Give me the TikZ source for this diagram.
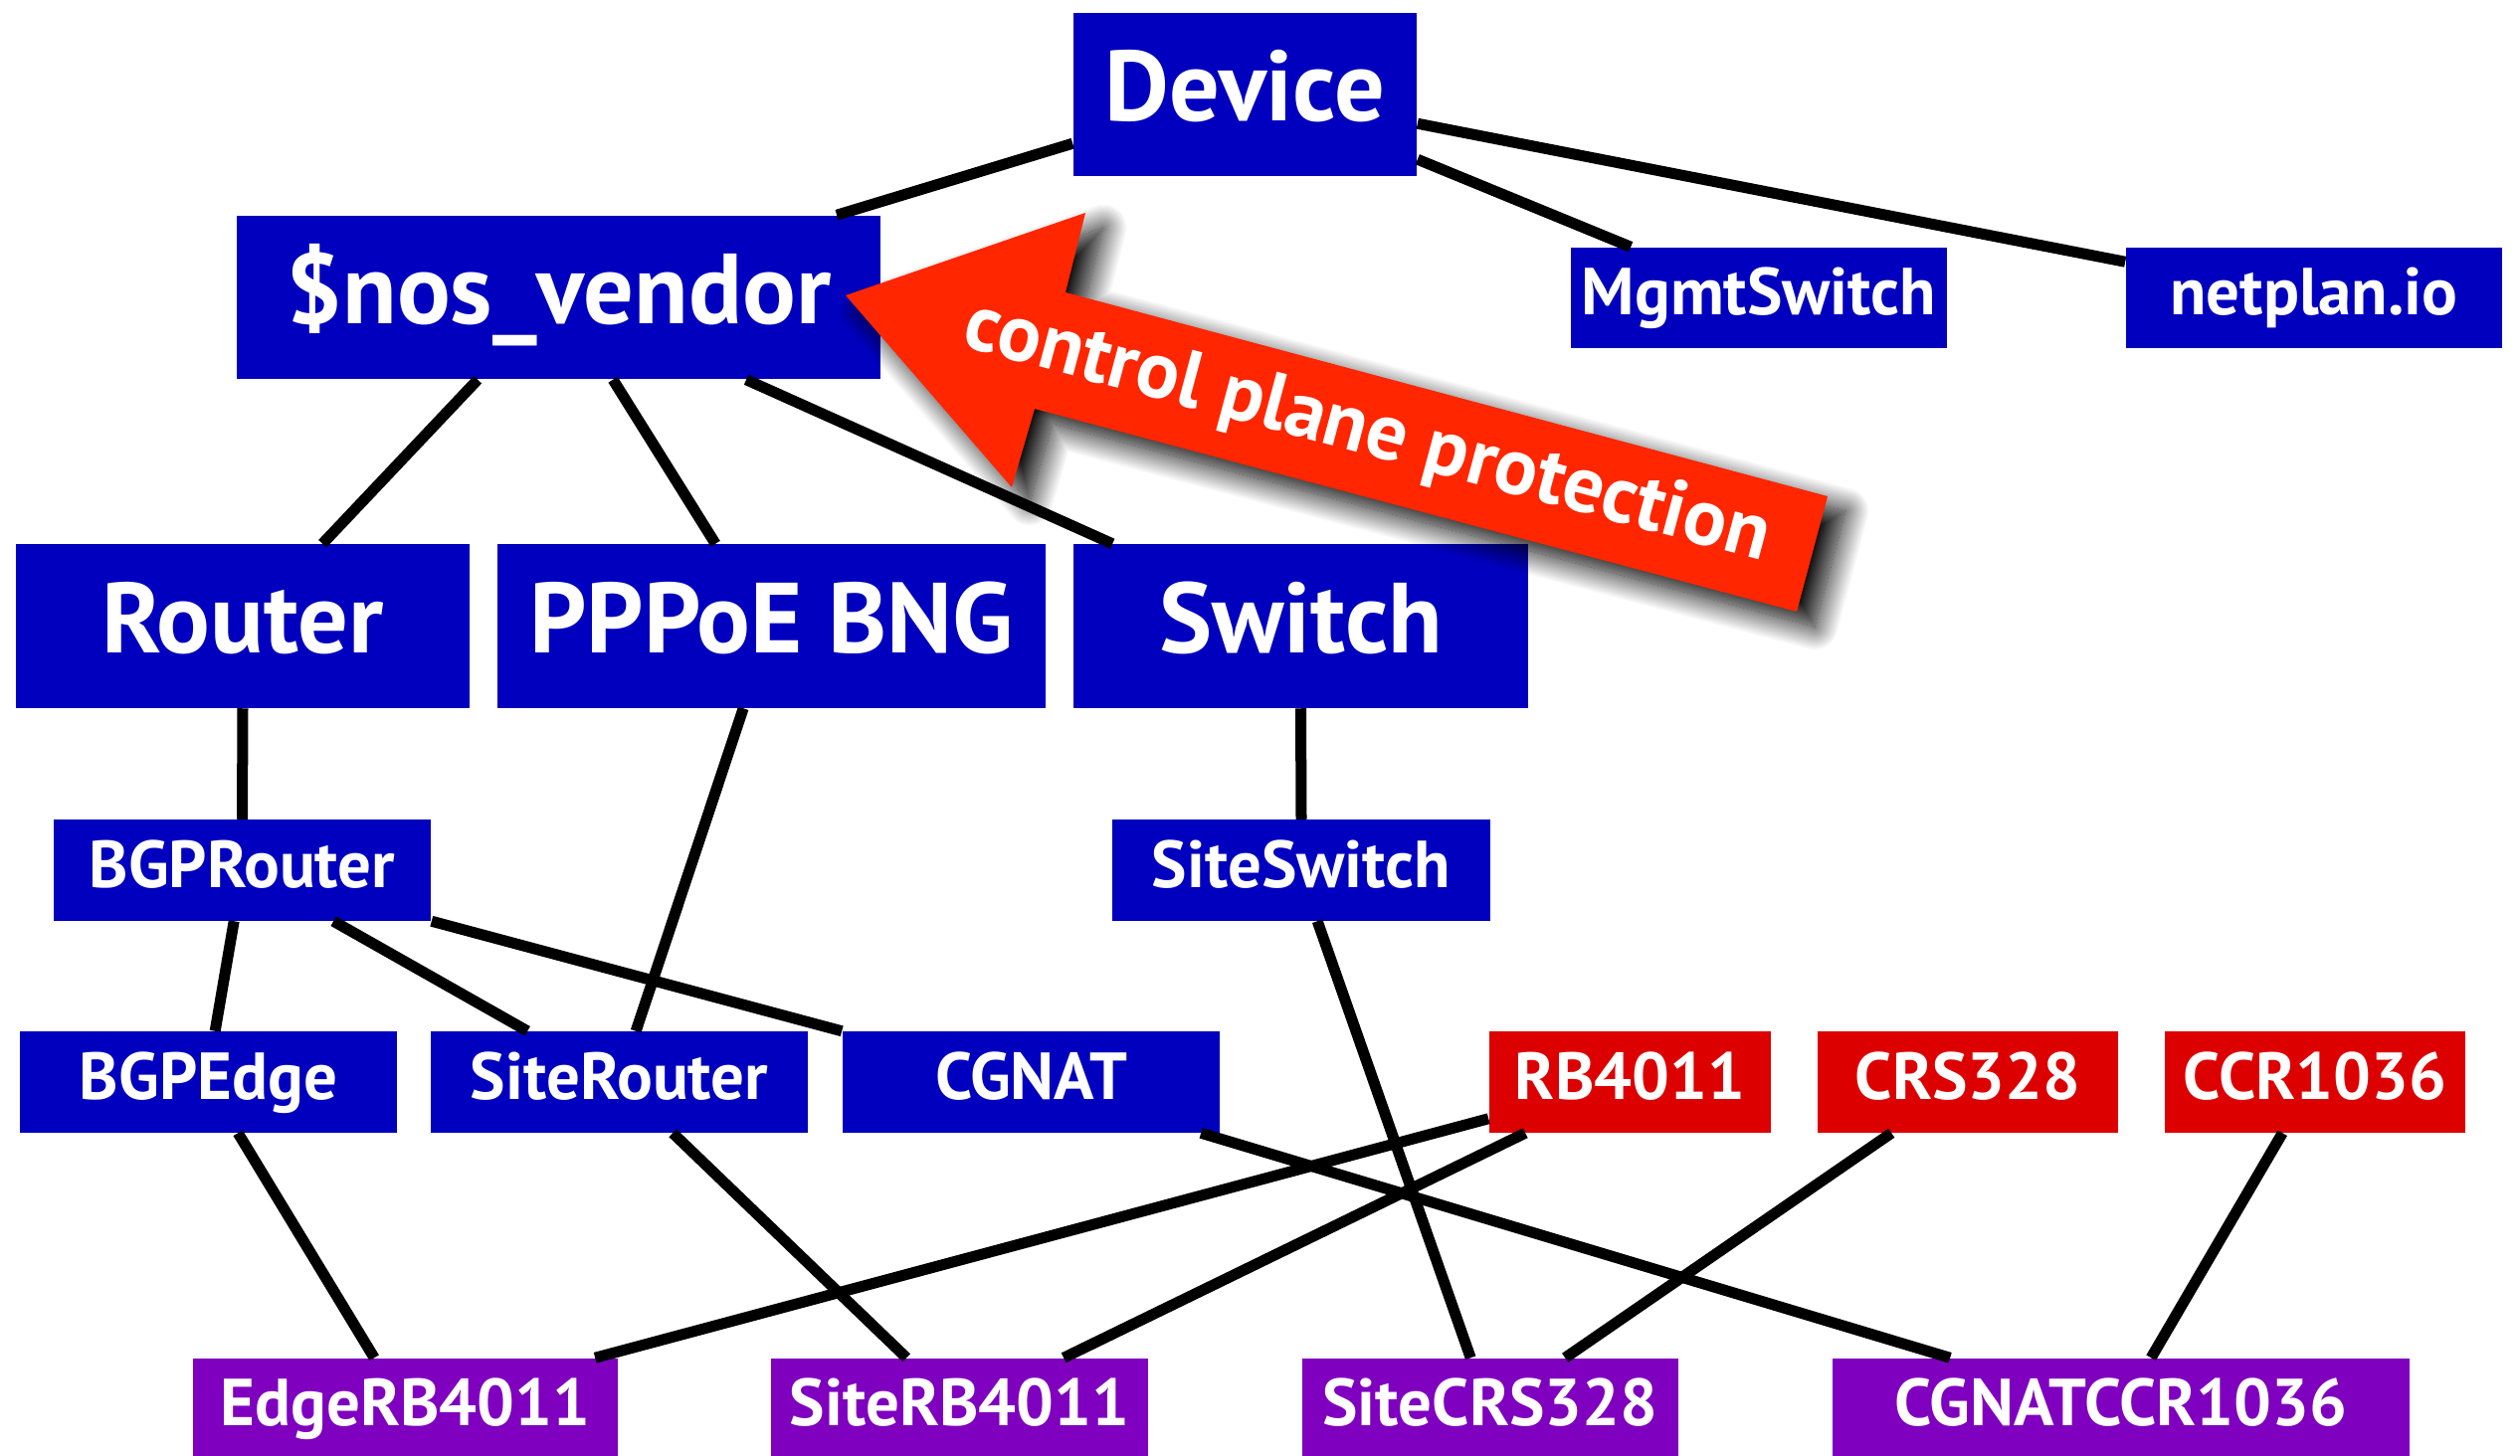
\documentclass[tikz,border=0pt]{standalone}
\usepackage{fontspec}
\setmainfont{PT Sans}
\usetikzlibrary{calc,shadows.blur}
\definecolor{nodeblue}{RGB}{0,0,190}
\definecolor{nodered}{RGB}{221,0,0}
\definecolor{nodepurple}{RGB}{127,0,191}
\definecolor{arrowred}{RGB}{255,38,0}
\begin{document}
\begin{tikzpicture}[x=0.01cm,y=-0.01cm,
  box/.style={rectangle, inner sep=0pt, text=white,
    font=\bfseries\fontsize{19}{21}\selectfont,
    minimum height=1.01cm, text height=0.46cm, text depth=0.12cm},
  bigbox/.style={box, font=\bfseries\fontsize{28.5}{31}\selectfont,
    minimum height=1.64cm, text height=0.69cm, text depth=0.16cm},
  bluebox/.style={fill=nodeblue},
  redbox/.style={fill=nodered},
  purplebox/.style={fill=nodepurple},
  link/.style={line width=0.11cm, draw=black}
]
\useasboundingbox (0,0) rectangle (2533,1464);

% nodes
\node[bigbox,bluebox,minimum width=3.45cm] (device) at (1251.5,95) {Device};
\node[bigbox,bluebox,minimum width=6.47cm] (nos) at (561.5,299) {\$nos\_vendor};
\node[box,bluebox,minimum width=3.78cm] (mgmt) at (1768,299.5) {MgmtSwitch};
\node[box,bluebox,minimum width=3.78cm] (netplan) at (2326,299.5) {netplan.io};
\node[bigbox,bluebox,minimum width=4.56cm] (router) at (244,629.5) {Router};
\node[bigbox,bluebox,minimum width=5.51cm] (pppoe) at (775.5,629.5) {PPPoE BNG};
\node[bigbox,bluebox,minimum width=4.57cm] (switch) at (1307.5,629.5) {Switch};
\node[box,bluebox,minimum width=3.79cm] (bgprouter) at (243.5,875) {BGPRouter};
\node[box,bluebox,minimum width=3.80cm] (siteswitch) at (1308,875) {SiteSwitch};
\node[box,bluebox,minimum width=3.79cm] (bgpedge) at (209.5,1088) {BGPEdge};
\node[box,bluebox,minimum width=3.79cm] (siterouter) at (622.5,1088) {SiteRouter};
\node[box,bluebox,minimum width=3.79cm] (cgnat) at (1036.5,1088) {CGNAT};
\node[box,redbox,minimum width=2.83cm] (rb4011) at (1638.5,1088) {RB4011};
\node[box,redbox,minimum width=3.02cm] (crs328) at (1978,1088) {CRS328};
\node[box,redbox,minimum width=3.02cm] (ccr1036) at (2327,1088) {CCR1036};
\node[box,purplebox,minimum width=4.27cm] (edgerb) at (407.5,1416.5) {EdgeRB4011};
\node[box,purplebox,minimum width=3.79cm] (siterb) at (964.5,1416.5) {SiteRB4011};
\node[box,purplebox,minimum width=3.78cm] (sitecrs) at (1498,1416.5) {SiteCRS328};
\node[box,purplebox,minimum width=5.80cm] (cgnatccr) at (2132,1416.5) {CGNATCCR1036};

% connectors
\draw[link] ($(device.north west)+(0,132)$) -- ($(nos.north west)+(604,0)$);
\draw[link] ($(device.north east)+(0,148)$) -- ($(mgmt.north west)+(61,0)$);
\draw[link] ($(device.north east)+(0,112)$) -- ($(netplan.north west)+(0,15)$);
\draw[link] ($(nos.south west)+(243,0)$) -- ($(router.north west)+(309,0)$);
\draw[link] ($(nos.south west)+(379,0)$) -- ($(pppoe.north west)+(220,0)$);
\draw[link] ($(nos.south west)+(513,0)$) -- ($(switch.north west)+(40,0)$);
\draw[link] (router.south) -- (bgprouter.north);
\draw[link] ($(pppoe.south west)+(248,0)$) -- ($(siterouter.north west)+(207,0)$);
\draw[link] (switch.south) -- (siteswitch.north);
\draw[link] ($(bgprouter.south west)+(182,0)$) -- ($(bgpedge.north west)+(197,0)$);
\draw[link] ($(bgprouter.south west)+(282,0)$) -- ($(siterouter.north west)+(98,0)$);
\draw[link] (bgprouter.south east) -- (cgnat.north west);
\draw[link] ($(siteswitch.south west)+(207,0)$) -- ($(sitecrs.north west)+(170,0)$);
\draw[link] ($(bgpedge.south west)+(220,0)$) -- ($(edgerb.north west)+(183,0)$);
\draw[link] ($(siterouter.south west)+(244,0)$) -- ($(siterb.north west)+(137,0)$);
\draw[link] ($(cgnat.south west)+(361,0)$) -- ($(cgnatccr.north west)+(119,0)$);
\draw[link] ($(rb4011.north west)+(0,88)$) -- ($(edgerb.north west)+(405,0)$);
\draw[link] ($(rb4011.south west)+(37,0)$) -- ($(siterb.north west)+(295,0)$);
\draw[link] ($(crs328.south west)+(75,0)$) -- ($(sitecrs.north west)+(265,0)$);
\draw[link] ($(ccr1036.south west)+(119,0)$) -- ($(cgnatccr.north west)+(321,0)$);

% callout arrow
\fill[arrowred, blur shadow={shadow xshift=0.18cm, shadow yshift=-0.15cm,
    shadow blur radius=0.24cm, shadow blur steps=30, shadow opacity=100}]
  (850,297) -- (1091,214) -- (1071,294) -- (1837,499) -- (1806,615)
  -- (1040,411) -- (1017,490) -- cycle;
\node[rotate=-15, anchor=base, inner sep=0pt, text=white,
  font=\bfseries\fontsize{23}{25}\selectfont] (cpp) at (1369,456)
  {control plane protection};
\end{tikzpicture}
\end{document}
